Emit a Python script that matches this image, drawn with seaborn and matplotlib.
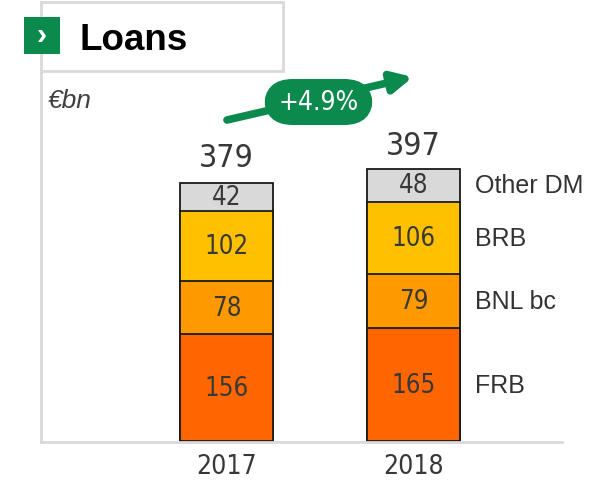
import matplotlib
matplotlib.use("Agg")
import matplotlib.pyplot as plt
import seaborn as sns
import pandas as pd
import numpy as np
from matplotlib.patches import Rectangle, FancyBboxPatch

sns.set_theme(style="white")
plt.rcParams['font.family'] = ['Liberation Sans', 'DejaVu Sans']

years = ["2017", "2018"]
series = ["FRB", "BNL bc", "BRB", "Other DM"]
values = {
    "FRB": [156, 165],
    "BNL bc": [78, 79],
    "BRB": [102, 106],
    "Other DM": [42, 48],
}
totals = [379, 397]
growth_label = "+4.9%"
unit_label = "€bn"
title = "Loans"
colors = {"FRB": "#FF6600", "BNL bc": "#FF9900", "BRB": "#FFC000", "Other DM": "#D9D9D9"}

NARROW = dict(family=['DejaVu Sans'], fontstretch='condensed')
TXT = "#404040"

fig = plt.figure(figsize=(5.99, 4.81), dpi=100)
W, H = 599, 481
def fx(px): return px / W
def fy(py): return 1 - py / H

ax_l, ax_r, ax_b, ax_t = 41, 562, 443, 71
ax = fig.add_axes([fx(ax_l), fy(ax_b), fx(ax_r) - fx(ax_l), fy(ax_t) - fy(ax_b)])

cum = np.zeros(len(years))
cums = {}
for s in series:
    cum = cum + np.array(values[s])
    cums[s] = cum.copy()

for s in reversed(series):
    df = pd.DataFrame({"year": years, "val": cums[s]})
    sns.barplot(data=df, x="year", y="val", color=colors[s], saturation=1,
                width=0.5, edgecolor="#1a1a1a", linewidth=1.3, ax=ax)

ax.set_ylim(-1.5, 379 / (442 - 183) * (ax_b - ax_t) - 1.5)
unit = (413.5 - 226.5) / (ax_r - ax_l)
left = -((226.5 - ax_l) / (ax_r - ax_l)) / unit
ax.set_xlim(left, left + 1 / unit)
ax.set_xticks([])
ax.set_yticks([])
ax.set_xlabel("")
ax.set_ylabel("")
for sp in ["top", "right"]:
    ax.spines[sp].set_visible(False)
for sp in ["left", "bottom"]:
    ax.spines[sp].set_color("#D9D9D9")
    ax.spines[sp].set_linewidth(2)

prev = np.zeros(len(years))
for s in series:
    for i in range(len(years)):
        ax.text(i, prev[i] + values[s][i] / 2, str(values[s][i]), ha="center", va="center",
                fontsize=18.5, color="#383838", **NARROW)
    prev = cums[s]

for i, t in enumerate(totals):
    ax.text(i, t + 13, str(t), ha="center", va="bottom", fontsize=23, color="#383838", **NARROW)

prev = 0
for s in series:
    ax.text(1.33, prev + values[s][1] / 2, s, ha="left", va="center", fontsize=18, color="#333333")
    prev += values[s][1]

for i, y in enumerate(years):
    xpix = ax.transData.transform((i, 0))[0]
    fig.text(xpix / W, fy(467), y, ha="center", va="center",
             fontsize=19, color="#383838", **NARROW)

fig.patches.append(Rectangle((fx(41), fy(72)), fx(283) - fx(41), fy(3) - fy(72),
                             transform=fig.transFigure, fill=False, edgecolor="#D9D9D9",
                             linewidth=2, zorder=1))
fig.patches.append(Rectangle((fx(24), fy(55)), fx(60) - fx(24), fy(18) - fy(55),
                             transform=fig.transFigure, facecolor="#0A8A4C", edgecolor="none",
                             zorder=2))
fig.text(fx(42), fy(36), "›", ha="center", va="center", fontsize=22, color="white",
         fontweight="bold", zorder=3)
fig.text(fx(79), fy(40), title, ha="left", va="center", fontsize=26.5, fontweight="bold",
         color="black")
fig.text(fx(48), fy(101), unit_label, ha="left", va="center", fontsize=19, style="italic",
         color=TXT)

ax.annotate("", xy=(fx(413), fy(78)), xytext=(fx(227), fy(121)),
            xycoords="figure fraction", textcoords="figure fraction",
            arrowprops=dict(arrowstyle="-|>,head_length=1.0,head_width=0.5",
                            color="#0A8A4C", lw=5.5, shrinkA=0, shrinkB=0),
            annotation_clip=False)
fig.patches.append(FancyBboxPatch((fx(264), fy(126)), fx(373) - fx(264), fy(80) - fy(126),
                                  boxstyle="round,pad=0,rounding_size=0.048",
                                  transform=fig.transFigure, facecolor="#0A8A4C",
                                  edgecolor="none", zorder=5, mutation_aspect=W / H))
fig.text(fx(319), fy(103), growth_label, ha="center", va="center", fontsize=19,
         color="white", zorder=6, **NARROW)

fig.savefig("out.png", dpi=100)
